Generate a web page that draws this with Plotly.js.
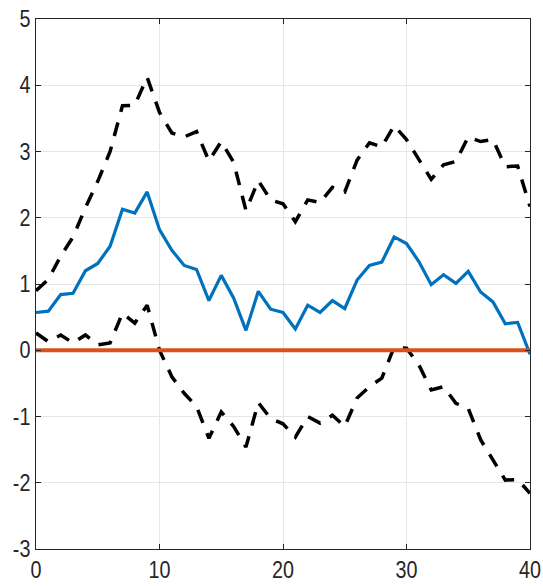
<!DOCTYPE html>
<html>
<head>
<meta charset="utf-8">
<script src="https://cdn.plot.ly/plotly-3.0.1.min.js"></script>
<style>
  html, body { margin: 0; padding: 0; background: #fff; }
  #chart { width: 543px; height: 586px; }
</style>
</head>
<body>
<div id="chart"></div>
<script>
// horizon 0..40
var steps = [];
for (var i = 0; i <= 40; i++) steps.push(i);

var response = [0.57, 0.59, 0.84, 0.86, 1.20, 1.31, 1.57, 2.13, 2.07, 2.39,
                1.82, 1.51, 1.28, 1.22, 0.75, 1.13, 0.79, 0.30, 0.89, 0.62,
                0.57, 0.32, 0.68, 0.57, 0.75, 0.63, 1.06, 1.28, 1.33, 1.71,
                1.61, 1.34, 0.99, 1.14, 1.01, 1.19, 0.88, 0.73, 0.40, 0.42,
                -0.06];

var upperBand = [0.90, 1.07, 1.42, 1.71, 2.15, 2.55, 3.00, 3.69, 3.70, 4.12,
                 3.59, 3.28, 3.22, 3.30, 2.86, 3.15, 2.84, 2.11, 2.56, 2.27,
                 2.21, 1.94, 2.27, 2.23, 2.46, 2.39, 2.87, 3.13, 3.07, 3.39,
                 3.18, 2.87, 2.58, 2.80, 2.85, 3.22, 3.15, 3.18, 2.77, 2.78,
                 2.17];

var lowerBand = [0.26, 0.13, 0.23, 0.11, 0.23, 0.08, 0.11, 0.56, 0.41, 0.68,
                 0.00, -0.40, -0.65, -0.85, -1.33, -0.93, -1.15, -1.46, -0.79, -1.03,
                 -1.11, -1.31, -1.00, -1.10, -0.98, -1.15, -0.72, -0.55, -0.42, 0.05,
                 0.03, -0.22, -0.60, -0.55, -0.80, -0.88, -1.35, -1.66, -1.96, -1.95,
                 -2.16];

var zeroLine = steps.map(function () { return 0; });

var xTicks = [0, 10, 20, 30, 40];
var yTicks = [-3, -2, -1, 0, 1, 2, 3, 4, 5];

var traces = [
  { x: steps, y: response, type: 'scatter', mode: 'lines',
    line: { color: '#0072BD', width: 3.2 } },
  { x: steps, y: upperBand, type: 'scatter', mode: 'lines',
    line: { color: '#000000', width: 3.5, dash: '14px,11px' } },
  { x: steps, y: lowerBand, type: 'scatter', mode: 'lines',
    line: { color: '#000000', width: 3.5, dash: '14px,11px' } },
  { x: steps, y: zeroLine, type: 'scatter', mode: 'lines',
    line: { color: '#D95319', width: 4 } }
];

var axisCommon = {
  showline: true, mirror: 'ticks', linecolor: '#262626', linewidth: 1,
  ticks: 'inside', ticklen: 5, tickcolor: '#262626',
  showgrid: true, gridcolor: '#e6e6e6', gridwidth: 1,
  zeroline: false,
  tickfont: { family: 'Liberation Sans Narrow, Liberation Sans, Arial, sans-serif', size: 23, color: '#262626' }
};

var layout = {
  width: 543, height: 586,
  margin: { l: 36, r: 13, t: 19, b: 37 },
  paper_bgcolor: '#ffffff', plot_bgcolor: '#ffffff',
  showlegend: false,
  xaxis: Object.assign({}, axisCommon, {
    range: [0, 40], tickvals: xTicks, ticktext: xTicks.map(String)
  }),
  yaxis: Object.assign({}, axisCommon, {
    range: [-3, 5], tickvals: yTicks, ticktext: yTicks.map(String)
  })
};

// squeeze tick labels horizontally to match the narrow face (about 11px per digit)
function narrowTicks() {
  var texts = document.querySelectorAll('#chart .xtick text, #chart .ytick text');
  var probe = null;
  texts.forEach(function (t) { if (t.textContent === '10') probe = t; });
  if (!probe) return;
  var s = 22 / probe.getBBox().width;
  if (s >= 1) return;
  texts.forEach(function (t) {
    var x = parseFloat(t.getAttribute('x')) || 0;
    var y = parseFloat(t.getAttribute('y')) || 0;
    var tr = t.getAttribute('transform') || '';
    t.setAttribute('transform', tr + ' translate(' + x + ',' + y + ') scale(' + s + ',1) translate(' + (-x) + ',' + (-y) + ')');
  });
}

Plotly.newPlot('chart', traces, layout, { displayModeBar: false, staticPlot: true }).then(narrowTicks);
</script>
</body>
</html>
